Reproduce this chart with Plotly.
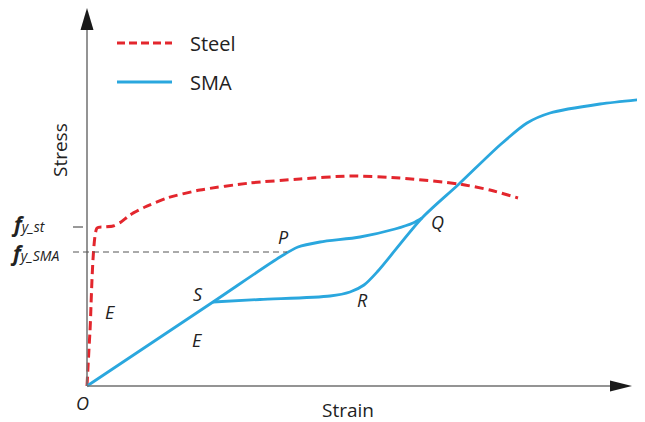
import plotly.graph_objects as go

# Schematic stress-strain data (arbitrary units)
steel_strain = [0, 3, 10, 17, 26, 34, 43, 58, 80, 113, 163, 213, 263, 313, 372, 403, 431]
steel_stress = [0, 55, 158, 159, 160, 164, 171, 179, 188, 196, 203, 207, 210, 208, 202, 196, 188]

sma_load_strain = [0, 126, 193, 211, 233, 273, 308, 326, 335]
sma_load_stress = [0, 84, 129, 139, 144, 149, 157, 163, 168]

sma_unload_strain = [126, 173, 243, 263, 277, 291, 335, 372, 413, 440, 463, 513, 558]
sma_unload_stress = [84, 86.5, 90, 94, 101, 115, 168, 202, 241, 263, 273, 282, 287]

fy_st = 159
fy_sma = 134
p_strain = 200

RED = "#e3262d"
BLUE = "#2aa7de"
FONT = "Open Sans"

fig = go.Figure()
fig.add_trace(go.Scatter(x=steel_strain, y=steel_stress, mode="lines",
                         line=dict(color=RED, width=3, dash="9px,5px", shape="spline", smoothing=0.6),
                         showlegend=False, hoverinfo="skip"))
fig.add_trace(go.Scatter(x=sma_load_strain, y=sma_load_stress, mode="lines",
                         line=dict(color=BLUE, width=2.8, shape="spline", smoothing=0.8),
                         showlegend=False, hoverinfo="skip"))
fig.add_trace(go.Scatter(x=sma_unload_strain, y=sma_unload_stress, mode="lines",
                         line=dict(color=BLUE, width=2.8, shape="spline", smoothing=0.8),
                         showlegend=False, hoverinfo="skip"))

shapes = []
# axes
shapes.append(dict(type="line", x0=0, y0=0, x1=535, y1=0, line=dict(color="#707070", width=1.5)))
shapes.append(dict(type="line", x0=0, y0=0, x1=0, y1=365, line=dict(color="#707070", width=1.5)))
shapes.append(dict(type="path", path="M 545 0 L 523 5.5 L 523 -5.5 Z", fillcolor="#1a1a1a", line=dict(width=0)))
shapes.append(dict(type="path", path="M 0 378 L -6.5 356 L 6.5 356 Z", fillcolor="#1a1a1a", line=dict(width=0)))
# yield lines
shapes.append(dict(type="line", x0=-14, y0=fy_sma, x1=p_strain, y1=fy_sma, line=dict(color="#555555", width=1, dash="6px,4px")))
shapes.append(dict(type="line", x0=-14, y0=fy_st, x1=-4, y1=fy_st, line=dict(color="#333333", width=1)))
# legend samples
shapes.append(dict(type="line", x0=30, y0=343, x1=85, y1=343, line=dict(color=RED, width=3, dash="8px,4px")))
shapes.append(dict(type="line", x0=30, y0=304, x1=85, y1=304, line=dict(color=BLUE, width=3)))

ann = []
def txt(x, y, t, size=18, italic=False, **kw):
    s = f"<i>{t}</i>" if italic else t
    d = dict(x=x, y=y, text=s, showarrow=False, font=dict(family=FONT, size=size, color="#222222"))
    d.update(kw)
    ann.append(d)

txt(101, 343, "Steel", size=20, xanchor="left")
txt(101, 304, "SMA", size=20, xanchor="left")
txt(-27, 236, "Stress", size=19, textangle=-90)
txt(261, -24, "Strain", size=19)
txt(-5, -17, "O", italic=True)
txt(23, 74, "E", italic=True)
txt(110, 46, "E", italic=True)
txt(111, 92, "S", italic=True)
txt(196, 149, "P", italic=True)
txt(350, 164, "Q", italic=True)
txt(275, 86, "R", italic=True)
txt(-39, fy_st + 3, "<span style='font-size:21px'><b><i>f</i></b></span><i>y_st</i>", size=14, xanchor="right")
txt(-25, fy_sma - 1, "<span style='font-size:21px'><b><i>f</i></b></span><i>y_SMA</i>", size=14, xanchor="right")

# page body has an 8px margin, so ranges are offset to keep the chart in place
fig.update_layout(
    width=645, height=422,
    margin=dict(l=0, r=0, t=0, b=0),
    paper_bgcolor="white", plot_bgcolor="white",
    xaxis=dict(range=[-79, 566], visible=False, fixedrange=True),
    yaxis=dict(range=[-44, 378], visible=False, fixedrange=True),
    shapes=shapes, annotations=ann,
)
fig.write_html("out.html")
